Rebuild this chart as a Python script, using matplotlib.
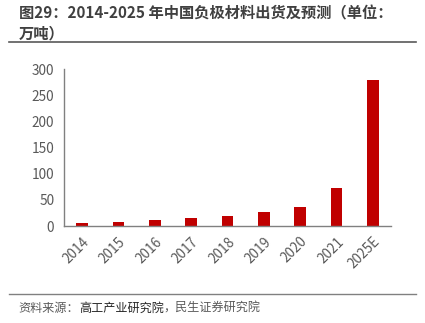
import matplotlib
matplotlib.use("Agg")
import matplotlib.pyplot as plt

plt.rcParams['font.family'] = ['Noto Sans CJK SC', 'DejaVu Sans']

years = ["2014", "2015", "2016", "2017", "2018", "2019", "2020", "2021", "2025E"]
shipments = [5.2, 7.3, 12.0, 14.6, 19.2, 26.5, 36.5, 72.0, 280.0]
yticks = [0, 50, 100, 150, 200, 250, 300]

fig = plt.figure(figsize=(4.25, 3.23), dpi=100)
ax = fig.add_axes([0.1506, 0.300, 0.7694, 0.486])

ax.bar(range(len(years)), shipments, width=0.32, color="#C00000", zorder=2)
ax.set_xlim(-0.5, len(years) - 0.5)
ax.set_ylim(0, 300)
ax.set_yticks(yticks)
ax.set_xticks(range(len(years)))
ax.set_xticklabels(years, rotation=45, ha="right", rotation_mode="anchor")

for s in ["top", "right"]:
    ax.spines[s].set_visible(False)
for s in ["left", "bottom"]:
    ax.spines[s].set_color("#808080")
    ax.spines[s].set_linewidth(1.0)
ax.tick_params(axis="both", length=0, colors="#595959", labelsize=9.8)
ax.tick_params(axis="y", pad=7)
ax.tick_params(axis="x", pad=6)

# title
fig.text(0.045, 0.958, "图29：2014-2025 年中国负极材料出货及预测（单位：",
         fontsize=11, fontweight="bold", color="#404040", va="center", ha="left")
fig.text(0.045, 0.895, "万吨）",
         fontsize=11, fontweight="bold", color="#404040", va="center", ha="left")
fig.add_artist(plt.Line2D([0.02, 0.978], [0.870, 0.870], color="#595959", lw=1.2))

# source
fig.add_artist(plt.Line2D([0.02, 0.978], [0.090, 0.090], color="#808080", lw=1.0))
t1 = fig.text(0.043, 0.045, "资料来源：", fontsize=8.7, color="#595959", va="center", ha="left")
fig.canvas.draw()
r = fig.canvas.get_renderer()
bb = t1.get_window_extent(r)
t2 = fig.text(bb.x1 / fig.bbox.width, 0.045, "高工产业研究院", fontsize=8.7, color="#262626",
              va="center", ha="left")
bb2 = t2.get_window_extent(r)
fig.text(bb2.x1 / fig.bbox.width, 0.045, "，民生证券研究院", fontsize=8.7, color="#595959",
         va="center", ha="left")

fig.savefig("out.png", dpi=100)
